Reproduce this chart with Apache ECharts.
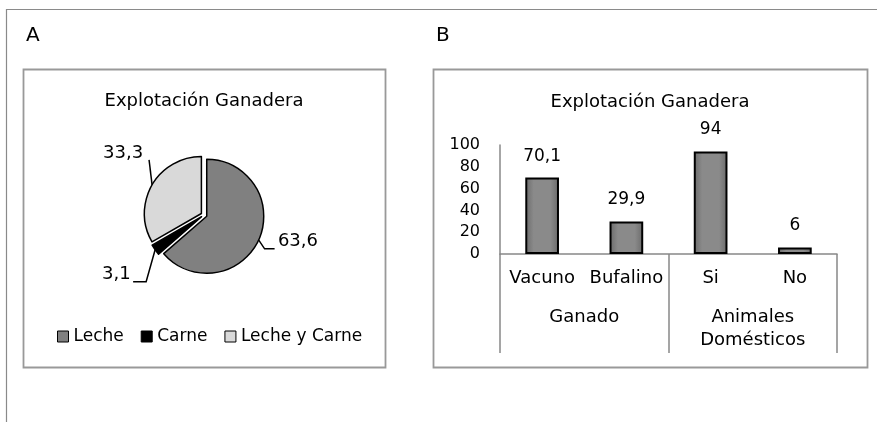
<!DOCTYPE html>
<html>
<head>
<meta charset="utf-8">
<script src="https://cdn.jsdelivr.net/npm/echarts@6/dist/echarts.min.js"></script>
<style>
  html, body { margin: 0; padding: 0; background: #fff; }
  #chart { width: 877px; height: 422px; }
</style>
</head>
<body>
<div id="chart"></div>
<script>
// datos del grafico A (torta)
var pieNames = ['Leche', 'Carne', 'Leche y Carne'];
var pieValues = [63.6, 3.1, 33.3];
var pieColors = ['#808080', '#000000', '#d9d9d9'];

// datos del grafico B (barras)
var barCategories = ['Vacuno', 'Bufalino', 'Si', 'No'];
var barValues = [70.1, 29.9, 94, 6];
var groupNames = ['Ganado', 'Animales\nDomésticos'];
var yTicks = [0, 20, 40, 60, 80, 100];

var font = '"DejaVu Sans", sans-serif';

function comma(v) {
  return String(v).replace('.', ',');
}

var pieData = pieNames.map(function (n, i) {
  return {
    name: n,
    value: pieValues[i],
    selected: true,
    itemStyle: { color: pieColors[i] }
  };
});

var barGradient = new echarts.graphic.LinearGradient(0, 0, 1, 0, [
  { offset: 0, color: '#6a6a6a' },
  { offset: 0.25, color: '#8a8a8a' },
  { offset: 0.75, color: '#8a8a8a' },
  { offset: 1, color: '#6a6a6a' }
]);

// ubicacion de las etiquetas de la torta, relativa al punto del borde
function pieLabelLayout(params) {
  var pts = params.labelLinePoints;
  if (!pts) return {};
  var p = pts[0];
  if (params.dataIndex === 2) {
    return {
      dx: 13, dy: -28,
      labelLinePoints: [p, [p[0] - 3, p[1] - 25], [p[0] - 3, p[1] - 25]]
    };
  }
  if (params.dataIndex === 1) {
    return {
      dx: -3, dy: 20,
      labelLinePoints: [p, [p[0] - 9, p[1] + 32], [p[0] - 22, p[1] + 32]]
    };
  }
  return {
    dx: -3, dy: -2,
    labelLinePoints: [p, [p[0] + 6, p[1] + 9], [p[0] + 16, p[1] + 9]]
  };
}

var chart = echarts.init(document.getElementById('chart'));

var option = {
  animation: false,
  textStyle: { fontFamily: font, color: '#000' },
  title: [{
    text: 'Explotación Ganadera',
    left: 199, top: 87, textAlign: 'center',
    textStyle: { fontFamily: font, fontSize: 18, fontWeight: 'normal', color: '#000' }
  }, {
    text: 'Explotación Ganadera',
    left: 645, top: 88, textAlign: 'center',
    textStyle: { fontFamily: font, fontSize: 18, fontWeight: 'normal', color: '#000' }
  }],
  legend: {
    data: pieNames,
    left: 52, top: 323,
    itemWidth: 11, itemHeight: 11, itemGap: 17,
    icon: 'rect',
    selectedMode: false,
    itemStyle: { borderColor: '#000', borderWidth: 1 },
    textStyle: { fontFamily: font, fontSize: 17, color: '#000' }
  },
  grid: { left: 500, right: 40, top: 145, bottom: 168, containLabel: false },
  xAxis: [{
    type: 'category',
    data: barCategories,
    position: 'bottom',
    axisLine: { show: true, lineStyle: { color: '#888', width: 1.5 } },
    axisTick: { show: false },
    axisLabel: { interval: 0, hideOverlap: false, margin: 15, fontFamily: font, fontSize: 18, color: '#000' }
  }, {
    type: 'category',
    data: groupNames,
    position: 'bottom',
    axisLine: { show: false },
    axisTick: { show: true, interval: 0, length: 99, lineStyle: { color: '#888', width: 1.5 } },
    axisLabel: { interval: 0, margin: 52, fontFamily: font, fontSize: 18, color: '#000', lineHeight: 23 }
  }],
  yAxis: {
    type: 'value',
    min: 0, max: 100, interval: 20,
    axisLine: { show: true, lineStyle: { color: '#888', width: 1.5 } },
    axisTick: { show: false },
    splitLine: { show: false },
    axisLabel: { margin: 20, fontFamily: font, fontSize: 16, color: '#000' }
  },
  series: [{
    type: 'pie',
    center: [204, 215],
    radius: 57,
    startAngle: 90,
    clockwise: true,
    selectedMode: 'multiple',
    selectedOffset: 3,
    emphasis: { disabled: true },
    data: pieData,
    itemStyle: { borderColor: '#000', borderWidth: 1.5 },
    label: {
      show: true,
      position: 'outside',
      formatter: function (p) { return comma(p.value); },
      fontFamily: font, fontSize: 18, color: '#000'
    },
    labelLine: {
      show: true, length: 8, length2: 10,
      lineStyle: { color: '#000', width: 1.5 }
    },
    labelLayout: pieLabelLayout
  }, {
    type: 'bar',
    xAxisIndex: 0,
    data: barValues,
    barWidth: '40%',
    itemStyle: { color: barGradient, borderColor: '#000', borderWidth: 2 },
    label: {
      show: true, position: 'top', distance: 13,
      formatter: function (p) { return comma(p.value); },
      fontFamily: font, fontSize: 17, color: '#000'
    }
  }],
  graphic: [
    { type: 'line', silent: true, shape: { x1: 7, y1: 9.5, x2: 877, y2: 9.5 }, style: { stroke: '#8a8a8a', lineWidth: 1.2 } },
    { type: 'line', silent: true, shape: { x1: 6.5, y1: 9, x2: 6.5, y2: 422 }, style: { stroke: '#8a8a8a', lineWidth: 1.2 } },
    { type: 'rect', silent: true, shape: { x: 23.5, y: 69.5, width: 362, height: 298 }, style: { fill: 'none', stroke: '#999', lineWidth: 1.8 } },
    { type: 'rect', silent: true, shape: { x: 433.5, y: 69.5, width: 434, height: 298 }, style: { fill: 'none', stroke: '#999', lineWidth: 1.8 } },
    { type: 'text', silent: true, left: 26, top: 26, style: { text: 'A', font: '20px ' + font, fill: '#000' } },
    { type: 'text', silent: true, left: 436, top: 26, style: { text: 'B', font: '20px ' + font, fill: '#000' } }
  ]
};

chart.setOption(option);
</script>
</body>
</html>
